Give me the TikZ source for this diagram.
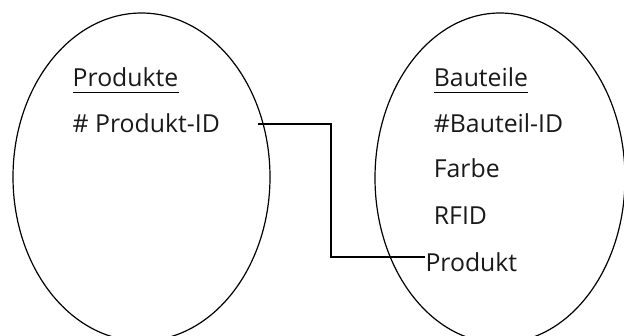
\documentclass[tikz,border=0pt]{standalone}
\usepackage{fontspec}
\setmainfont{Open Sans}
\begin{document}
\begin{tikzpicture}[x=1pt,y=-1pt,
  ent/.style={draw=black,line width=1.2pt},
  attr/.style={anchor=base west,inner sep=0pt,font=\fontsize{24.8}{30}\selectfont,text=black!90},
  link/.style={draw=black,line width=1.2pt},
  ul/.style={line width=1.3pt}]
\useasboundingbox (0,0) rectangle (624,335);
% entities
\draw[ent] (141.5,177) ellipse [x radius=128.5,y radius=164];
\draw[ent] (500,178) ellipse [x radius=125,y radius=165];
% left texts
\node[attr] (prd) at (72.5,86.7) {Produkte};
\node[attr] (pid) at (72.5,132.7) {\# Produkt-ID};
\draw[ul] ([yshift=-5.6]prd.base west) -- ([yshift=-5.6]prd.base east);
% right texts
\node[attr] (bt) at (433.7,86.7) {Bauteile};
\node[attr] (bid) at (433.7,132.7) {\#Bauteil-ID};
\node[attr] (fb) at (433.7,177) {Farbe};
\node[attr] (rf) at (433.7,224) {RFID};
\node[attr] (pr) at (425.3,271) {Produkt};
\draw[ul] ([yshift=-5.6]bt.base west) -- ([yshift=-5.6]bt.base east);
% connector
\coordinate (c1) at (258,124);
\coordinate (c2) at (331,257);
\draw[link] (c1) -| (c2) -- (c2 -| pr.west);
\end{tikzpicture}
\end{document}
